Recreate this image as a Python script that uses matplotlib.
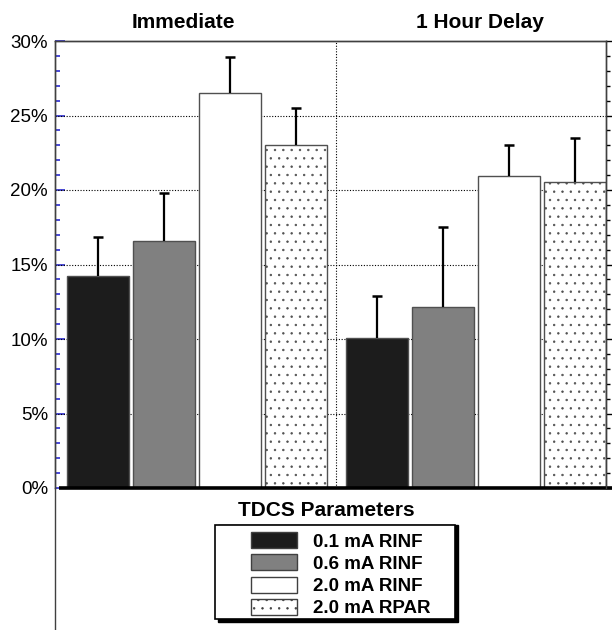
import matplotlib
matplotlib.use("Agg")
import matplotlib.pyplot as plt
from matplotlib.patches import Patch, Rectangle
from matplotlib.lines import Line2D
from matplotlib.ticker import MultipleLocator, FuncFormatter, NullFormatter

# data (percent)
groups = ["Immediate", "1 Hour Delay"]
params = ["0.1 mA RINF", "0.6 mA RINF", "2.0 mA RINF", "2.0 mA RPAR"]
immediate = [14.2, 16.6, 26.5, 23.0]
immediate_err = [2.65, 3.2, 2.45, 2.5]
delay = [10.1, 12.15, 20.95, 20.55]
delay_err = [2.8, 5.35, 2.05, 2.95]

colors = ["#1c1c1c", "#808080", "white", "white"]
hatches = [None, None, None, ".."]

plt.rcParams["font.family"] = ["Liberation Sans", "DejaVu Sans"]
plt.rcParams["hatch.linewidth"] = 0.5
plt.rcParams["hatch.color"] = "black"

W, H = 612, 630
fig = plt.figure(figsize=(W / 100, H / 100), dpi=100)

def fx(px):
    return px / W

def fy(py):
    return 1 - py / H

# axes box in pixels: left 55, right 606, top 41, bottom 488
ax = fig.add_axes([fx(55), fy(488), fx(606) - fx(55), fy(41) - fy(488)])
ax.set_axisbelow(True)

group_gap = 4.23
for g, (vals, errs) in enumerate([(immediate, immediate_err), (delay, delay_err)]):
    xs = [g * group_gap + i for i in range(len(vals))]
    for i, x in enumerate(xs):
        ax.bar(x, vals[i], width=0.94, color=colors[i], edgecolor="#505050",
               linewidth=1.0, hatch=hatches[i], zorder=2)
    tops = [v + e for v, e in zip(vals, errs)]
    ax.vlines(xs, vals, tops, color="black", lw=1.6, zorder=3)
    ax.plot(xs, tops, ls="none", marker="_", ms=6.5, mew=1.8,
            color="black", zorder=3)

ax.set_xlim(-0.652, 7.697)
ax.set_ylim(0, 30)

# grid and divider
for v in range(5, 30, 5):
    ax.axhline(v, color="black", lw=0.8, ls=(0, (1, 1.5)), zorder=1)
ax.axvline(3.6, color="black", lw=0.8, ls=(0, (1, 1.5)), zorder=1)

ax.yaxis.set_major_locator(MultipleLocator(5))
ax.yaxis.set_minor_locator(MultipleLocator(1))
ax.yaxis.set_major_formatter(FuncFormatter(lambda v, p: "%d%%" % v))
ax.set_xticks([])
ax.tick_params(axis="y", which="both", direction="in", color="#2a2ad0",
               width=1.2, labelsize=13.5, pad=5)
ax.tick_params(axis="y", which="major", length=7)
ax.tick_params(axis="y", which="minor", length=3.6)

# right side ticks, black and outward
ax2 = ax.twinx()
ax2.set_ylim(0, 30)
ax2.yaxis.set_major_locator(MultipleLocator(5))
ax2.yaxis.set_minor_locator(MultipleLocator(1))
ax2.yaxis.set_major_formatter(NullFormatter())
ax2.tick_params(axis="y", which="both", direction="out", color="black", width=1.0)
ax2.tick_params(axis="y", which="major", length=5)
ax2.tick_params(axis="y", which="minor", length=3)

for a in (ax, ax2):
    for side in ["left", "right", "top"]:
        a.spines[side].set_color("#404040")
        a.spines[side].set_linewidth(1.0)
    a.spines["bottom"].set_visible(False)

# thick baseline and left spine running down the figure
ax.plot([0.007, 1.011], [0, 0], transform=ax.get_yaxis_transform(),
        color="black", lw=2.6, clip_on=False, zorder=5, solid_capstyle="butt")
fig.add_artist(Line2D([fx(55), fx(55)], [0, fy(488)], transform=fig.transFigure,
                      color="#404040", lw=1.0))

# group titles
fig.text(fx(183), fy(27.5), groups[0], ha="center", va="baseline",
         fontsize=15, fontweight="bold")
fig.text(fx(479.5), fy(27.5), groups[1], ha="center", va="baseline",
         fontsize=15, fontweight="bold")

# legend
fig.text(fx(326), fy(516), "TDCS Parameters", ha="center", va="baseline",
         fontsize=15, fontweight="bold")
fig.add_artist(Rectangle((fx(218), fy(622)), fx(240), 97 / H,
                         transform=fig.transFigure, facecolor="black",
                         edgecolor="black", zorder=4))
fig.add_artist(Rectangle((fx(215), fy(619)), fx(240), 94 / H,
                         transform=fig.transFigure, facecolor="white",
                         edgecolor="black", lw=1.2, zorder=5))
handles = [Patch(facecolor=colors[i], edgecolor="#404040", hatch=hatches[i],
                 label=params[i]) for i in range(len(params))]
leg = fig.legend(handles=handles, loc="upper left",
                 bbox_to_anchor=(fx(251), fy(532)), frameon=False,
                 borderpad=0, borderaxespad=0, handlelength=2.45,
                 handleheight=0.95, handletextpad=0.85, labelspacing=0.2,
                 prop={"size": 13.5, "weight": "bold"})
leg.set_zorder(6)

fig.savefig("out.png", dpi=100)
